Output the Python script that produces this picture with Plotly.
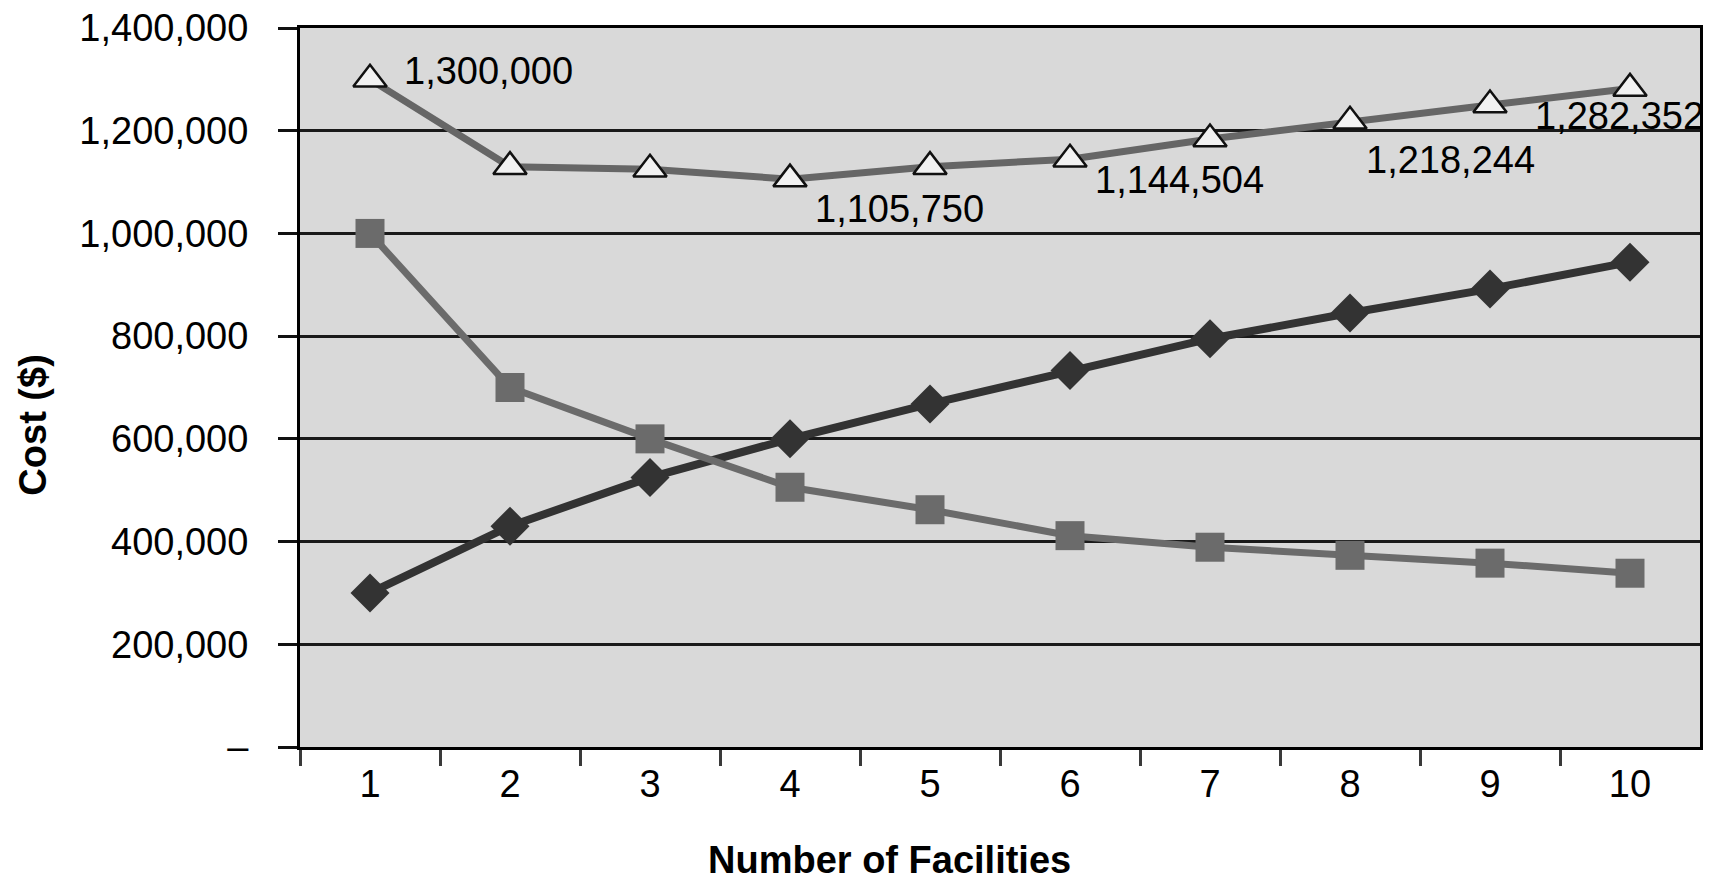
import plotly.graph_objects as go

# Number of facilities on the x axis
facilities = [1, 2, 3, 4, 5, 6, 7, 8, 9, 10]

# Cost components ($)
facility_cost = [300000, 430000, 525000, 600000, 668000, 733000, 795000, 845000, 892000, 944000]
transport_cost = [1000000, 700000, 600000, 505750, 462000, 411504, 389000, 373244, 358000, 338352]
total_cost = [1300000, 1130000, 1125000, 1105750, 1130000, 1144504, 1184000, 1218244, 1250000, 1282352]

# Points of the total-cost curve that carry a value label, with label offsets (px)
labelled_points = [1, 4, 6, 8, 10]
label_offsets = {1: (32, 8), 4: (23, -30), 6: (23, -21), 8: (14, -39), 10: (-97, -28)}

# Y axis ticks
y_ticks = [0, 200000, 400000, 600000, 800000, 1000000, 1200000, 1400000]
y_tick_text = ["\u2013"] + [f"{v:,}" for v in y_ticks[1:]]

FONT = "Liberation Sans, Arial, Helvetica, sans-serif"
FS = 38

fig = go.Figure()

fig.add_trace(go.Scatter(
    x=facilities, y=facility_cost, mode="lines+markers",
    line=dict(color="#333333", width=8),
    marker=dict(symbol="diamond", size=30, color="#333333"),
    showlegend=False, cliponaxis=False,
))
fig.add_trace(go.Scatter(
    x=facilities, y=transport_cost, mode="lines+markers",
    line=dict(color="#6b6b6b", width=7),
    marker=dict(symbol="square", size=29, color="#6b6b6b"),
    showlegend=False, cliponaxis=False,
))
fig.add_trace(go.Scatter(
    x=facilities, y=total_cost, mode="lines+markers",
    line=dict(color="#666666", width=7),
    marker=dict(symbol="triangle-up", size=29, color="#f2f2f2",
                line=dict(color="#111111", width=2.5)),
    showlegend=False, cliponaxis=False,
))

for n in labelled_points:
    v = total_cost[n - 1]
    dx, dy = label_offsets[n]
    fig.add_annotation(
        x=n, y=v, xref="x", yref="y", text=f"{v:,}", showarrow=False,
        xanchor="left", yanchor="middle", xshift=dx, yshift=dy,
        font=dict(family=FONT, size=FS, color="#000000"),
    )

# Axis titles
fig.add_annotation(
    x=0.421, y=-0.189, xref="paper", yref="paper", text="<b>Number of Facilities</b>",
    showarrow=False, xanchor="center", yanchor="bottom",
    font=dict(family=FONT, size=FS, color="#000000"),
)
fig.add_annotation(
    x=-0.1907, y=0.447, xref="paper", yref="paper", text="<b>Cost ($)</b>",
    showarrow=False, textangle=-90, xanchor="center", yanchor="middle",
    font=dict(family=FONT, size=FS, color="#000000"),
)

fig.update_layout(
    width=1710, height=885,
    margin=dict(l=300, r=7, t=24, b=138),
    paper_bgcolor="#ffffff", plot_bgcolor="#d9d9d9",
    font=dict(family=FONT, size=FS, color="#000000"),
    xaxis=dict(
        range=[0.5, 10.5], tickmode="array", tickvals=facilities,
        ticktext=[str(f) for f in facilities],
        ticks="outside", ticklen=1, tickcolor="rgba(0,0,0,0)",
        ticklabelstandoff=0,
        showgrid=False, zeroline=False,
        showline=True, linecolor="#000000", linewidth=3, mirror=True,
        minor=dict(tickvals=[0.5 + i for i in range(10)], ticks="outside",
                   ticklen=16, tickwidth=3, tickcolor="#3a3a3a", showgrid=False),
        tickfont=dict(family=FONT, size=FS, color="#000000"),
    ),
    yaxis=dict(
        range=[0, 1400000], tickmode="array", tickvals=y_ticks, ticktext=y_tick_text,
        ticks="outside", ticklen=19, tickwidth=3, tickcolor="#111111",
        ticklabelstandoff=22,
        showgrid=True, gridcolor="#1a1a1a", gridwidth=3, zeroline=False,
        showline=True, linecolor="#000000", linewidth=3, mirror=True,
        tickfont=dict(family=FONT, size=FS, color="#000000"),
    ),
)

fig.write_html("out.html")
